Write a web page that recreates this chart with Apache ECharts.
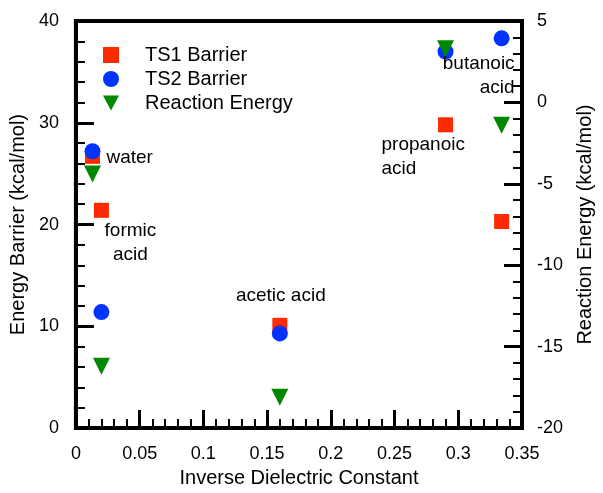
<!DOCTYPE html>
<html><head><meta charset="utf-8">
<script src="https://cdn.jsdelivr.net/npm/echarts@6/dist/echarts.min.js"></script>
<style>html,body{margin:0;padding:0;background:#fff}#c{width:603px;height:493px}</style>
</head><body><div id="c"></div>
<script>
// ---- data ----
const solvents = ['water', 'formic\nacid', 'acetic acid', 'propanoic\nacid', 'butanoic\nacid'];
const inverseDielectric = [0.013, 0.020, 0.160, 0.290, 0.334];
const ts1Barrier = [26.7, 21.4, 10.1, 29.8, 20.3];
const ts2Barrier = [27.2, 11.4, 9.3, 37.0, 38.3];
const reactionEnergy = [-4.4, -16.2, -18.1, 3.3, -1.4];
const seriesNames = ['TS1 Barrier', 'TS2 Barrier', 'Reaction Energy'];
const xAxisTitle = 'Inverse Dielectric Constant';
const leftAxisTitle = 'Energy Barrier (kcal/mol)';
const rightAxisTitle = 'Reaction Energy (kcal/mol)';

// ---- styling (label placement relative to TS1 markers) ----
const FONT = 'Liberation Sans, Arial, sans-serif';
const labelPlacement = [
  { align: 'left',   offset: [14, 1] },
  { align: 'center', offset: [29, 32] },
  { align: 'center', offset: [1, -30] },
  { align: 'left',   offset: [-64, 32] },
  { align: 'right',  offset: [13, -146] }
];
const legendIcons = ['path://M0,0L1,0L1,1L0,1Z', 'circle', 'path://M0,0L2,0L1,1.9Z'];

function pts(ys, withLabels) {
  return inverseDielectric.map((x, i) => {
    const d = { value: [x, ys[i]] };
    if (withLabels) d.label = labelPlacement[i];
    return d;
  });
}

const black = '#000';
function axisCommon() {
  return {
    axisLine: { show: true, onZero: false, lineStyle: { color: black, width: 4 } },
    axisTick: { show: true, inside: true, length: 18, lineStyle: { color: black, width: 3 } },
    minorTick: { show: true, splitNumber: 5, length: 9, lineStyle: { color: black, width: 2 } },
    splitLine: { show: false },
    minorSplitLine: { show: false },
    nameLocation: 'middle',
    nameTextStyle: { fontSize: 20, color: black, fontFamily: FONT, verticalAlign: 'middle', align: 'center' }
  };
}

const chart = echarts.init(document.getElementById('c'), null, { renderer: 'canvas' });
chart.setOption({
  animation: false,
  backgroundColor: '#fff',
  textStyle: { fontFamily: FONT },
  grid: { left: 71, right: 73, top: 21, bottom: 60, show: true, borderColor: black, borderWidth: 4, backgroundColor: 'transparent' },
  legend: {
    data: seriesNames.map((n, i) => ({ name: n, icon: legendIcons[i] })),
    orient: 'vertical',
    left: 103, top: 45,
    padding: 0,
    itemWidth: 16, itemHeight: 16, itemGap: 4,
    textStyle: { fontSize: 20, lineHeight: 20, color: black, fontFamily: FONT, padding: [0, 0, 0, 21] }
  },
  xAxis: Object.assign(axisCommon(), {
    type: 'value', min: 0, max: 0.35, interval: 0.05,
    name: xAxisTitle, nameGap: 47,
    axisLabel: { fontSize: 18, color: black, margin: 17, fontFamily: FONT }
  }),
  yAxis: [
    Object.assign(axisCommon(), {
      type: 'value', position: 'left', min: 0, max: 40, interval: 10,
      name: leftAxisTitle, nameGap: 53,
      axisLabel: { fontSize: 18, color: black, margin: 17, fontFamily: FONT, padding: [6, 0, 0, 0] }
    }),
    Object.assign(axisCommon(), {
      type: 'value', position: 'right', min: -20, max: 5, interval: 5,
      name: rightAxisTitle, nameGap: 63, nameRotate: 90, alignTicks: false,
      axisLabel: { fontSize: 18, color: black, margin: 15, fontFamily: FONT, padding: [7, 0, 0, 0] }
    })
  ],
  series: [
    {
      name: seriesNames[0], type: 'scatter', yAxisIndex: 0,
      symbol: 'rect', symbolSize: 15,
      itemStyle: { color: '#FF2A00', opacity: 1 },
      label: {
        show: true, position: 'inside', color: black, fontSize: 19, lineHeight: 24,
        fontFamily: FONT, textBorderWidth: 0,
        formatter: p => solvents[p.dataIndex]
      },
      data: pts(ts1Barrier, true)
    },
    {
      name: seriesNames[1], type: 'scatter', yAxisIndex: 0,
      symbol: 'circle', symbolSize: 16,
      itemStyle: { color: '#0033FF', opacity: 1 },
      data: pts(ts2Barrier, false)
    },
    {
      name: seriesNames[2], type: 'scatter', yAxisIndex: 1,
      symbol: 'triangle', symbolSize: [17, 17], symbolRotate: 180,
      itemStyle: { color: '#008800', opacity: 1 },
      data: pts(reactionEnergy, false)
    }
  ]
});
</script></body></html>
